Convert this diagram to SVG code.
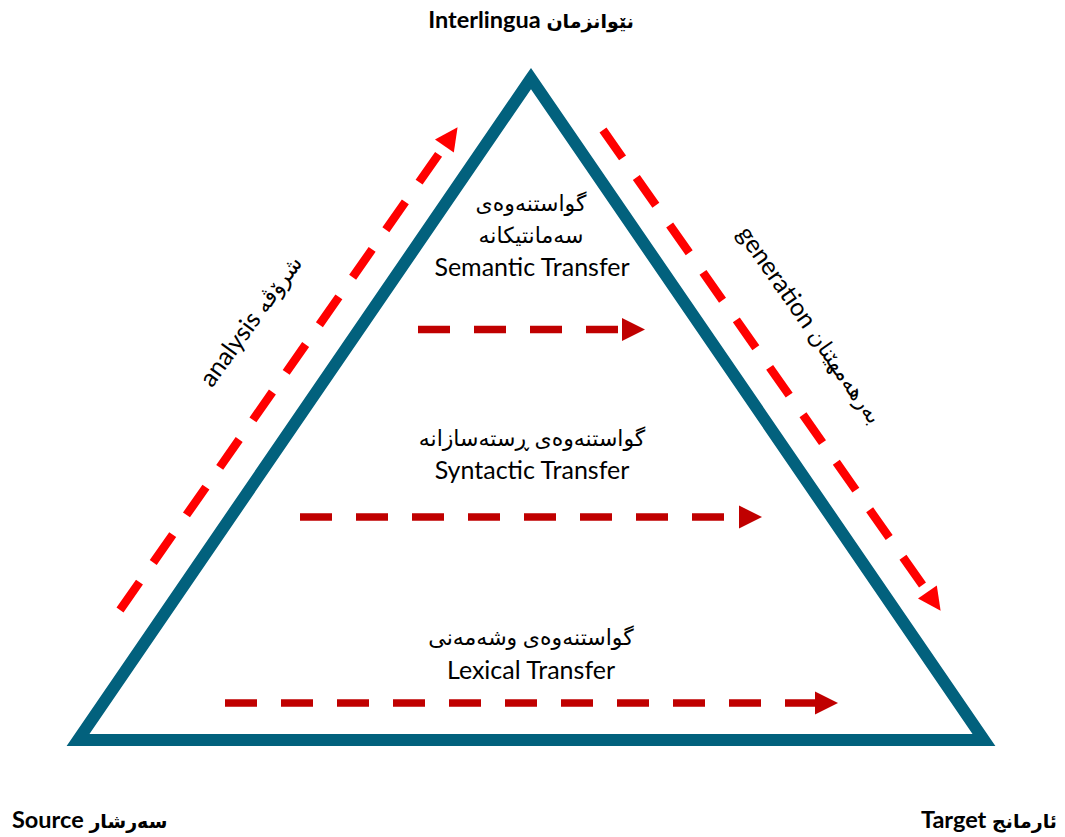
<svg xmlns="http://www.w3.org/2000/svg" width="1065" height="837" viewBox="0 0 1065 837">
  <style>
    .lbl { font-family: "Lato", "DejaVu Sans", sans-serif; font-size: 25px; fill: #000; text-anchor: middle; }
    .ar { font-size: 22px; }
    .corner { font-family: "Lato", "DejaVu Sans", sans-serif; font-size: 23.5px; font-weight: bold; fill: #000; }
    .corner .ar { font-size: 19px; }
    .flow { fill: none; stroke-width: 7.5; stroke-dasharray: 32 24; }
    .dark { stroke: #C00000; }
    .bright { stroke: #FF0000; stroke-width: 8.5; stroke-dasharray: 34 24; }
  </style>
  <defs>
    <marker id="headDark" markerUnits="userSpaceOnUse" markerWidth="24" markerHeight="24" refX="0" refY="11.5" orient="auto" overflow="visible">
      <path d="M0,0 L23,11.5 L0,23 Z" fill="#C00000"/>
    </marker>
    <marker id="headBright" markerUnits="userSpaceOnUse" markerWidth="24" markerHeight="24" refX="0" refY="11.5" orient="auto" overflow="visible">
      <path d="M0,0 L23,11.5 L0,23 Z" fill="#FF0000"/>
    </marker>
  </defs>

  <rect width="1065" height="837" fill="#FFFFFF"/>

  <!-- pyramid -->
  <g id="pyramid">
    <polygon points="531,78.5 78,740 984,740" fill="none" stroke="#02617D" stroke-width="12" stroke-linejoin="miter" stroke-miterlimit="10"/>
  </g>

  <!-- connectors -->
  <g id="connectors">
    <line class="flow dark" x1="418" y1="329.5" x2="622" y2="329.5" marker-end="url(#headDark)"/>
    <line class="flow dark" x1="300" y1="517" x2="739" y2="517" marker-end="url(#headDark)"/>
    <line class="flow dark" x1="225" y1="703" x2="815" y2="703" marker-end="url(#headDark)"/>
    <line class="flow bright" x1="120" y1="610" x2="444.4" y2="146" marker-end="url(#headBright)"/>
    <line class="flow bright" x1="603" y1="130" x2="927.4" y2="592" marker-end="url(#headBright)"/>
  </g>

  <!-- corner labels -->
  <g id="node-interlingua">
    <text class="corner" x="531" y="28" text-anchor="middle" direction="ltr">Interlingua <tspan class="ar">نێوانزمان</tspan></text>
  </g>
  <g id="node-source">
    <text class="corner" x="12" y="828" direction="ltr">Source <tspan class="ar">سەرشار</tspan></text>
  </g>
  <g id="node-target">
    <text class="corner" x="1057" y="828" text-anchor="end" direction="ltr">Target <tspan class="ar">ئارمانج</tspan></text>
  </g>

  <!-- transfer levels -->
  <g id="node-semantic">
    <text class="lbl ar" x="531" y="211">گواستنەوەی</text>
    <text class="lbl ar" x="531" y="243">سەمانتیکانە</text>
    <text class="lbl" x="532" y="276">Semantic Transfer</text>
  </g>
  <g id="node-syntactic">
    <text class="lbl ar" x="532" y="446">گواستنەوەی ڕستەسازانە</text>
    <text class="lbl" x="532" y="479">Syntactic Transfer</text>
  </g>
  <g id="node-lexical">
    <text class="lbl ar" x="531" y="645">گواستنەوەی وشەمەنی</text>
    <text class="lbl" x="531" y="679">Lexical Transfer</text>
  </g>

  <!-- side labels -->
  <g id="node-analysis">
    <text class="lbl" transform="translate(251,321) rotate(-54)" x="0" y="8" direction="ltr">analysis <tspan class="ar">شرۆڤە</tspan></text>
  </g>
  <g id="node-generation">
    <text class="lbl" transform="translate(810,325) rotate(55)" x="0" y="8" direction="ltr">generation <tspan class="ar">بەرھەمھێنان</tspan></text>
  </g>
</svg>
